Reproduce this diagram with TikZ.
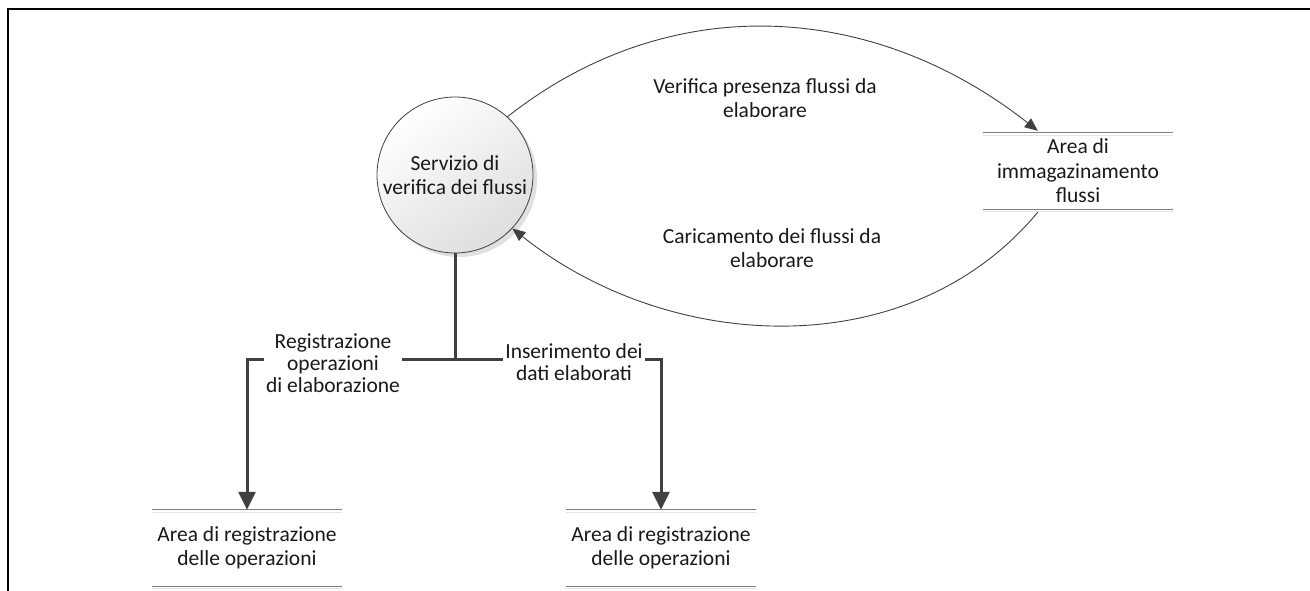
\documentclass[tikz,border=0pt]{standalone}
\usepackage{fontspec}
\setmainfont{Carlito}
\usetikzlibrary{arrows.meta,shadows}
\definecolor{linegray}{HTML}{404040}
\definecolor{storegray}{HTML}{7F7F7F}
\begin{document}
\begin{tikzpicture}[x=1pt,y=-1pt,
  txt/.style={font=\fontsize{21.5}{24.5}\selectfont, text=black!90, align=center},
  flowlabel/.style={font=\fontsize{21.5}{22}\selectfont, text=black!90, align=center, fill=white, inner sep=2pt},
  process/.style={txt, circle, draw=black!75, line width=0.8pt, minimum size=156pt, inner sep=0pt,
    top color=white, bottom color=black!13, shading angle=35,
    drop shadow={shadow xshift=4pt, shadow yshift=-4pt, fill=black!12, opacity=1}},
  store/.style={txt, minimum width=190pt, minimum height=76pt, inner sep=0pt},
  storeline/.style={draw=storegray, line width=1.3pt},
  storeshadow/.style={draw=black!10, line width=1.5pt},
  flow/.style={draw=linegray, line width=3pt},
  flowtip/.style={flow, -{Triangle[length=18pt,width=17pt]}},
  arcflow/.style={draw=linegray, line width=0.9pt, -{Triangle[length=13pt,width=11pt]}}]
\useasboundingbox (0,0) rectangle (1310,591);
% frame
\draw[line width=2.6pt, line cap=rect] (8,595) -- (8,9) -- (1315,9);

% nodes
\node[process] (svc) at (455,175) {Servizio di\\verifica dei flussi};
\node[store] (imm) at (1078,171) {Area di\\immagazinamento\\flussi};
\node[store] (reg1) at (247,548) {Area di registrazione\\delle operazioni};
\node[store] (reg2) at (661,548) {Area di registrazione\\delle operazioni};

\foreach \s in {imm,reg1,reg2}{
  \draw[storeshadow] ([yshift=-2.5pt]\s.north west) -- ([yshift=-2.5pt]\s.north east);
  \draw[storeshadow] ([yshift=-2.5pt]\s.south west) -- ([yshift=-2.5pt]\s.south east);
  \draw[storeline] (\s.north west) -- (\s.north east);
  \draw[storeline] (\s.south west) -- (\s.south east);
}

% T-shaped flows
\coordinate (j) at (455,359);
\draw[flow] (svc.south) -- (j);
\draw[flowtip] (j) -| (reg1.north);
\draw[flowtip] (j) -| (reg2.north);
\node[flowlabel] (lreg) at (333,363) {Registrazione\\operazioni\\di elaborazione};
\node[flowlabel] (lins) at (574,362) {Inserimento dei\\dati elaborati};

% arcs
\coordinate (immin) at ([xshift=55pt,yshift=2pt]imm.north west);
\coordinate (immout) at ([xshift=55pt,yshift=-3pt]imm.south west);
\draw[arcflow] (svc.48) .. controls (671,-12) and (874,2) .. (immin);
\draw[arcflow] (immout) .. controls (910,366) and (670,354) .. (svc.-43);
\node[txt] (lver) at (765,98) {Verifica presenza flussi da\\elaborare};
\node[txt] (lcar) at (772,248) {Caricamento dei flussi da\\elaborare};
\end{tikzpicture}
\end{document}
